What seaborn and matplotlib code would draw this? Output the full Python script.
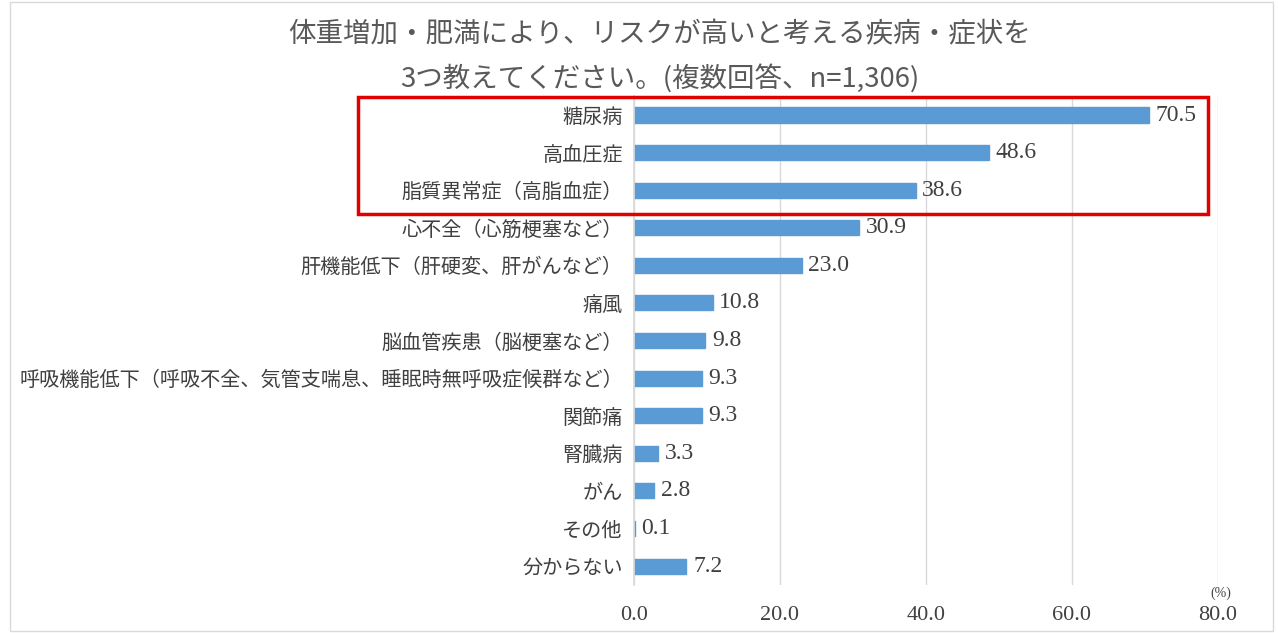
import pandas as pd
import seaborn as sns
import matplotlib.pyplot as plt
from matplotlib.patches import Rectangle

categories = [
    "糖尿病",
    "高血圧症",
    "脂質異常症（高脂血症）",
    "心不全（心筋梗塞など）",
    "肝機能低下（肝硬変、肝がんなど）",
    "痛風",
    "脳血管疾患（脳梗塞など）",
    "呼吸機能低下（呼吸不全、気管支喘息、睡眠時無呼吸症候群など）",
    "関節痛",
    "腎臓病",
    "がん",
    "その他",
    "分からない",
]
values = [70.5, 48.6, 38.6, 30.9, 23.0, 10.8, 9.8, 9.3, 9.3, 3.3, 2.8, 0.1, 7.2]
x_ticks = [0, 20, 40, 60, 80]

df = pd.DataFrame({"item": categories, "pct": values})

sns.set_theme(style="white")
plt.rcParams["font.family"] = ["Noto Sans CJK JP", "DejaVu Sans"]
jp = ["Noto Sans CJK JP", "DejaVu Sans"]
num = ["Liberation Serif", "DejaVu Serif"]
text_col = "#404040"

fig = plt.figure(figsize=(12.78, 6.33), dpi=100)
ax = fig.add_axes([0.496, 0.076, 0.457, 0.772])

# thin edge in the bar colour so the 0.1 bar still shows
sns.barplot(data=df, x="pct", y="item", color="#5B9BD5", width=0.4,
            saturation=1, edgecolor="#5B9BD5", linewidth=1, ax=ax)

ax.set_xlim(0, 80)
ax.set_xticks(x_ticks)
ax.set_xticklabels([f"{t:.1f}" for t in x_ticks], family=num, fontsize=16,
                   color=text_col)
ax.set_yticklabels(categories, family=jp, fontsize=14.5, color=text_col)
ax.tick_params(axis="y", length=0, pad=8)
ax.tick_params(axis="x", length=0, pad=15)
ax.set_xlabel("")
ax.set_ylabel("")
ax.grid(axis="x", color="#d9d9d9", linewidth=1)
ax.set_axisbelow(True)
for s in ["top", "right", "bottom"]:
    ax.spines[s].set_visible(False)
ax.spines["left"].set_color("#d9d9d9")

for i, v in enumerate(values):
    ax.text(v + 0.9, i, f"{v:.1f}", va="center", ha="left", family=num,
            fontsize=17, color=text_col)

ax.text(1.005, -0.003, "(%)", transform=ax.transAxes, ha="center", va="top",
        family=num, fontsize=10, color=text_col)

fig.text(0.516, 0.945, "体重増加・肥満により、リスクが高いと考える疾病・症状を",
         ha="center", va="center", family=jp, fontsize=19.8, color="#595959")
fig.text(0.516, 0.877, "3つ教えてください。(複数回答、n=1,306)",
         ha="center", va="center", family=jp, fontsize=19.8, color="#595959")

# red highlight box around the top three items
fig.patches.append(Rectangle((358 / 1278, 1 - 214 / 633), 850 / 1278, 117 / 633,
                             transform=fig.transFigure, fill=False,
                             edgecolor="#e00000", linewidth=2.5))
fig.patches.append(Rectangle((0.008, 0.003), 0.988, 0.994,
                             transform=fig.transFigure, fill=False,
                             edgecolor="#d9d9d9", linewidth=1))

fig.savefig("out.png", dpi=100)
